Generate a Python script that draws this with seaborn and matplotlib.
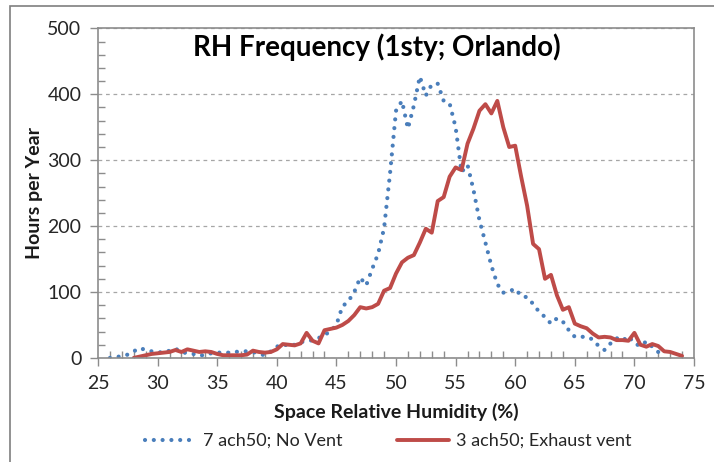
import numpy as np
import pandas as pd
import matplotlib
matplotlib.use("Agg")
import matplotlib.pyplot as plt
from matplotlib.patches import Rectangle
from matplotlib.ticker import MultipleLocator
import seaborn as sns

# humidity bins (%), 0.5 % steps
rh_no_vent = np.arange(26.0, 72.51, 0.5)
rh_exhaust = np.arange(28.0, 74.01, 0.5)

# hours per year
hours_no_vent = [
    0, 1, 3, 5, 10, 15, 12, 10, 9, 8,
    11, 14, 9, 7, 6, 3, 5, 7, 8, 8,
    8, 9, 10, 10, 9, 6, 4, 10, 17, 21,
    18, 20, 24, 25, 27, 30, 35, 40, 50, 78,
    86, 100, 122, 110, 135, 158, 197, 280, 375, 390,
    348, 383, 427, 398, 415, 416, 390, 386, 350, 282,
    293, 255, 209, 175, 140, 112, 99, 101, 105, 94,
    92, 82, 70, 62, 52, 60, 55, 42, 32, 32,
    32, 28, 18, 12, 22, 30, 26, 33, 22, 18,
    25, 17, 9, 4,
]
hours_exhaust = [
    0, 2, 4, 6, 7, 8, 9, 12, 9, 13,
    11, 9, 10, 9, 6, 4, 4, 4, 4, 5,
    11, 9, 8, 9, 13, 21, 20, 19, 22, 38,
    26, 22, 42, 44, 46, 50, 56, 65, 77, 75,
    77, 82, 102, 106, 128, 145, 152, 156, 175, 196,
    190, 238, 244, 275, 289, 285, 325, 348, 375, 385,
    371, 390, 350, 320, 322, 275, 231, 173, 165, 120,
    126, 95, 73, 77, 52, 48, 45, 37, 31, 32,
    31, 27, 27, 26, 38, 20, 17, 21, 18, 10,
    9, 6, 3,
]

label_no_vent = "7 ach50; No Vent"
label_exhaust = "3 ach50; Exhaust vent"
blue = "#4a7ebb"
red = "#be4b48"

df_a = pd.DataFrame({"rh": rh_no_vent, "hours": hours_no_vent})
df_b = pd.DataFrame({"rh": rh_exhaust, "hours": hours_exhaust})

sns.set_theme(style="white")
plt.rcParams["font.family"] = ["Lato", "DejaVu Sans"]

fig = plt.figure(figsize=(7.14, 4.62), dpi=100)
ax = fig.add_axes([98 / 714, 1 - 357.9 / 462, 596 / 714, (357.9 - 28.4) / 462])

sns.lineplot(data=df_a, x="rh", y="hours", ax=ax, color=blue, lw=3.0,
             linestyle=(0, (0.01, 2.1)), dash_capstyle="round",
             label=label_no_vent, legend=False)
sns.lineplot(data=df_b, x="rh", y="hours", ax=ax, color=red, lw=2.8,
             solid_joinstyle="round", solid_capstyle="round",
             label=label_exhaust, legend=False)

ax.set_xlim(25, 75)
ax.set_ylim(0, 500)
ax.xaxis.set_major_locator(MultipleLocator(5))
ax.xaxis.set_minor_locator(MultipleLocator(1))
ax.yaxis.set_major_locator(MultipleLocator(100))
ax.yaxis.set_minor_locator(MultipleLocator(20))
ax.tick_params(which="major", direction="out", length=6, width=1,
               color="#8c8c8c", labelsize=14, labelcolor="#262626", pad=6)
ax.tick_params(which="minor", direction="in", length=5, width=1, color="#8c8c8c")
ax.tick_params(axis="x", which="both", bottom=True)
ax.tick_params(axis="y", which="both", left=True)
ax.yaxis.grid(True, which="major", linestyle=(0, (3, 3)), color="#a6a6a6", lw=0.9)
for s in ax.spines.values():
    s.set_color("#8c8c8c")
    s.set_linewidth(1.2)

ax.set_xlabel("Space Relative Humidity (%)", fontsize=14, fontweight="bold",
              color="#1a1a1a", labelpad=8)
ax.set_ylabel("Hours per Year", fontsize=14, fontweight="bold",
              color="#1a1a1a", labelpad=3)

fig.text(377 / 714, 1 - 47 / 462, "RH Frequency (1sty; Orlando)", ha="center",
         va="center", fontsize=20, fontweight="bold", color="#000000")

handles, labels = ax.get_legend_handles_labels()
fig.legend(handles, labels, loc="center", bbox_to_anchor=(388 / 714, 1 - 441 / 462),
           ncol=2, frameon=False, fontsize=13, handlelength=2.9,
           handletextpad=0.35, columnspacing=3.0)

# outer chart border (cut at right and bottom)
fig.add_artist(Rectangle((10 / 714, -0.2), 1.2, 1.2 - 6 / 462,
                         transform=fig.transFigure, fill=False,
                         edgecolor="#7f7f7f", lw=1.2))

fig.savefig("out.png", dpi=100)
